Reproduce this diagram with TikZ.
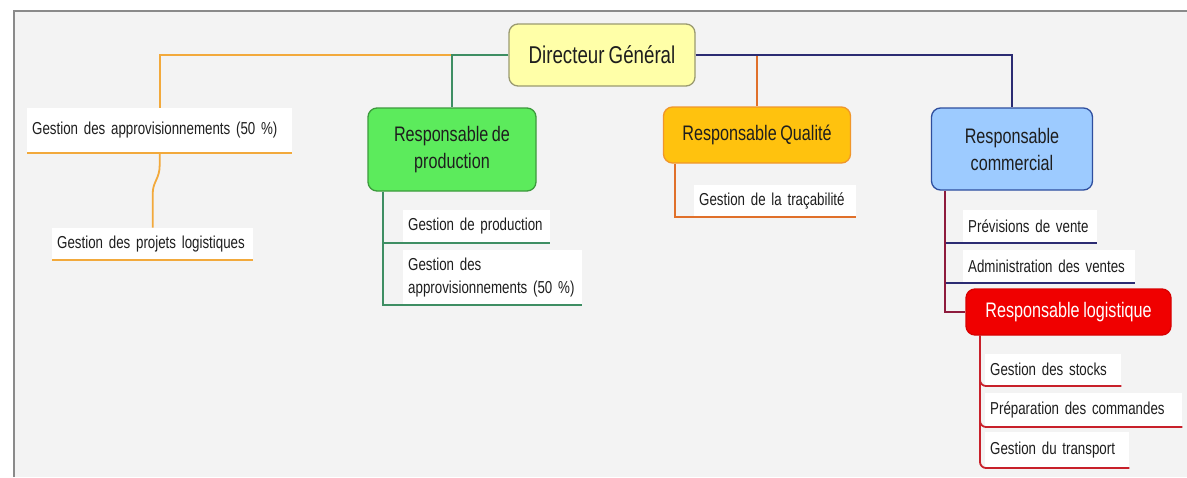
\documentclass[tikz,border=0pt]{standalone}
\usepackage{fontspec}
\setmainfont[FakeStretch=0.77, WordSpace=0.8]{Liberation Sans}
\usetikzlibrary{calc}
\definecolor{panel}{HTML}{F3F3F3}
\definecolor{frame}{HTML}{8A8A8A}
\definecolor{dgfill}{HTML}{FFFFA8}
\definecolor{dgdraw}{HTML}{9A9A70}
\definecolor{prodfill}{HTML}{5CEB5C}
\definecolor{proddraw}{HTML}{3C9A3C}
\definecolor{qualfill}{HTML}{FFC20E}
\definecolor{qualdraw}{HTML}{F0962A}
\definecolor{commfill}{HTML}{9DCBFF}
\definecolor{commdraw}{HTML}{2E4E9E}
\definecolor{logifill}{HTML}{F00000}
\definecolor{logidraw}{HTML}{D80000}
\definecolor{oline}{HTML}{F2A93B}
\definecolor{qline}{HTML}{E0702A}
\definecolor{gline}{HTML}{3E8E63}
\definecolor{nline}{HTML}{2B2B72}
\definecolor{mline}{HTML}{8E1B3D}
\definecolor{rline}{HTML}{C8202A}
\definecolor{leaftext}{HTML}{1E1E1E}
\begin{document}
\begin{tikzpicture}[x=1pt, y=-1pt,
  box/.style={rounded corners=9pt, line width=1.3pt, align=center, inner sep=0pt,
    font=\fontsize{21}{27}\selectfont, text=leaftext},
  leaf/.style={fill=white, anchor=south west, inner xsep=5pt, inner ysep=0pt,
    align=left, font=\fontsize{17.3}{23}\selectfont, text=leaftext},
  link/.style={line width=1.8pt}]

% page and panel
\useasboundingbox (0,0) rectangle (1187,477);
\fill[white] (0,0) rectangle (1187,477);
\fill[panel] (14,11) rectangle (1187,477);
\draw[frame, line width=2pt] (14,477) -- (14,11) -- (1187,11);

% main boxes
\node[box, fill=dgfill, draw=dgdraw, minimum width=186pt, minimum height=62pt,
  font=\fontsize{24.3}{27}\selectfont] (dg) at (602,55) {Directeur Général};
\node[box, fill=prodfill, draw=proddraw, minimum width=168pt, minimum height=83pt]
  (prod) at (452,149.5) {Responsable de\\production};
\node[box, fill=qualfill, draw=qualdraw, minimum width=187pt, minimum height=56pt]
  (qual) at (757,135) {Responsable Qualité};
\node[box, fill=commfill, draw=commdraw, minimum width=161pt, minimum height=82pt]
  (comm) at (1012,149) {Responsable\\commercial};
\node[box, fill=logifill, draw=logidraw, minimum width=205pt, minimum height=46pt,
  text=white] (logi) at (1068.5,312) {Responsable logistique};

% task items
\node[leaf, text width=255pt, minimum height=45pt] (l1) at (27,153)
  {Gestion des approvisionnements (50 \%)};
\node[leaf, text width=191pt, minimum height=32pt] (l2) at (52,260)
  {Gestion des projets logistiques};
\node[leaf, text width=137pt, minimum height=33pt] (p1) at (403,243)
  {Gestion de production};
\node[leaf, text width=169pt, minimum height=55pt] (p2) at (403,305)
  {Gestion des\\approvisionnements (50 \%)};
\node[leaf, text width=152pt, minimum height=32pt] (q1) at (694,217)
  {Gestion de la traçabilité};
\node[leaf, text width=124pt, minimum height=33pt] (c1) at (963,243)
  {Prévisions de vente};
\node[leaf, text width=162pt, minimum height=33pt] (c2) at (963,283)
  {Administration des ventes};
\node[leaf, text width=126pt, minimum height=32pt] (r1) at (985,386)
  {Gestion des stocks};
\node[leaf, text width=187pt, minimum height=34pt] (r2) at (985,427)
  {Préparation des commandes};
\node[leaf, text width=134pt, minimum height=36pt] (r3) at (985,468)
  {Gestion du transport};

% trunk positions
\coordinate (ptrunk) at (383,0);
\coordinate (qtrunk) at (675,0);
\coordinate (ctrunk) at (945,0);
\coordinate (ltrunk) at (980,0);

% links from the director
\draw[link, oline] (dg.west) -| (l1.north);
\draw[link, gline] (dg.west) -| (prod.north);
\draw[link, qline] (dg.east) -| (qual.north);
\draw[link, nline] (dg.east) -| (comm.north);

% left branch
\draw[link, oline] (l1.south west) -- (l1.south east);
\draw[link, oline] (l1.south) -- ++(0,12)
  .. controls ++(0,14) and ($(l2.north)+(0,-46)$) .. ($(l2.north)+(0,-34)$)
  -- (l2.north);
\draw[link, oline] (l2.south west) -- (l2.south east);

% production
\draw[link, gline] (prod.south -| ptrunk) |- (p2.south east);
\draw[link, gline] (prod.south -| ptrunk) |- (p1.south east);

% quality
\draw[link, qline] (qual.south -| qtrunk) |- (q1.south east);

% commercial
\draw[link, nline] (c1.south west -| ctrunk) -- (c1.south east);
\draw[link, nline] (c2.south west -| ctrunk) -- (c2.south east);
\draw[link, mline] (comm.south -| ctrunk) |- (logi.west);

% logistics
\draw[link, rline, rounded corners=6pt] (logi.south -| ltrunk) |- (r3.south east);
\draw[link, rline, rounded corners=6pt] (logi.south -| ltrunk) |- (r2.south east);
\draw[link, rline, rounded corners=6pt] (logi.south -| ltrunk) |- (r1.south east);
\end{tikzpicture}
\end{document}
